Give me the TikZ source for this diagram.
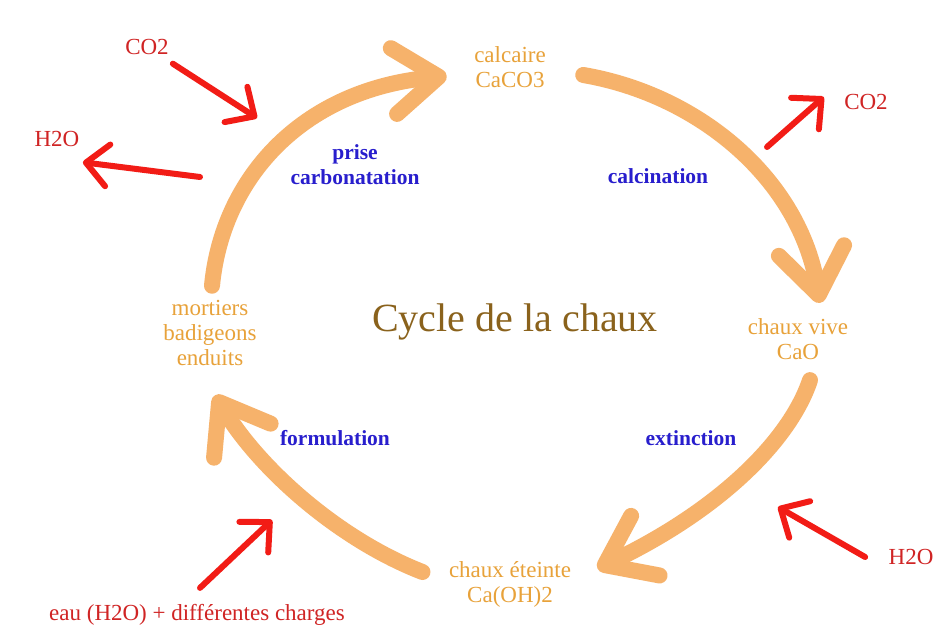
\documentclass[tikz,border=0pt]{standalone}
\usepackage{fontspec}
\setmainfont{Liberation Serif}
\usetikzlibrary{arrows.meta,positioning}

\definecolor{flowcol}{RGB}{246,178,107}
\definecolor{compcol}{RGB}{232,162,58}
\definecolor{stepcol}{RGB}{40,30,205}
\definecolor{gascol}{RGB}{208,36,36}
\definecolor{gasflowcol}{RGB}{242,28,22}
\definecolor{titlecol}{RGB}{138,98,28}

\begin{document}
\begin{tikzpicture}[
    x=1pt, y=-1pt,
    compound/.style={text=compcol, align=center, font=\fontsize{23}{25}\selectfont},
    reaction/.style={text=stepcol, align=center, font=\bfseries\fontsize{21.5}{25}\selectfont},
    gas/.style={text=gascol, font=\fontsize{23}{25}\selectfont},
    flow/.style={draw=flowcol, line width=16pt, line cap=round, -{Straight Barb[length=45pt, width=66pt, round]}},
    gasflow/.style={draw=gasflowcol, line width=6pt, line cap=round, -{Straight Barb[length=22pt, width=42pt, round]}}
]
\fill[white] (0,0) rectangle (941,626);
\useasboundingbox (0,0) rectangle (941,626);

% cycle stages
\node[compound] (calcaire) at (510,67) {calcaire\\CaCO3};
\node[compound] (vive) at (798,339) {chaux vive\\CaO};
\node[compound] (eteinte) at (510,584) {chaux éteinte\\Ca(OH)2};
\node[compound] (mortiers) at (210,333) {mortiers\\badigeons\\enduits};
\node[text=titlecol, font=\fontsize{40}{44}\selectfont] (title) at (515,322) {Cycle de la chaux};

% reactions
\node[reaction] (prise) at (355,165) {prise\\carbonatation};
\node[reaction] (calcination) at (658,176) {calcination};
\node[reaction] (extinction) at (691,438) {extinction};
\node[reaction] (formulation) at (335,438) {formulation};

% gases
\node[gas] (co2in) at (147,47) {CO2};
\node[gas] (h2oout) at (57,139) {H2O};
\node[gas] (co2out) at (866,102) {CO2};
\node[gas] (h2oin) at (911,557) {H2O};
\node[gas] (eau) at (197,615) {eau (H2O) + différentes charges};

\coordinate (co2intip) at (257,118);
\coordinate (h2oouttail) at (200,177);
\coordinate (co2outtail) at (767,147);
\coordinate (h2ointip) at (778,507);
\coordinate (eautip) at (272,520);

\draw[flow] ([xshift=2pt,yshift=11pt]mortiers.north) .. controls (222,180) and (300,90) .. ([xshift=-24pt,yshift=-9pt]calcaire.west);
\draw[flow] ([xshift=34pt,yshift=-8pt]calcaire.east) .. controls (700,95) and (800,180) .. ([xshift=22pt,yshift=12pt]vive.north);
\draw[flow] ([xshift=12pt,yshift=-17pt]vive.south) .. controls (790,440) and (720,510) .. ([xshift=23pt,yshift=-11pt]eteinte.north east);
\draw[flow] ([xshift=-23pt,yshift=12pt]eteinte.west) .. controls (340,540) and (260,470) .. ([xshift=5pt,yshift=-26pt]mortiers.south);

\draw[gasflow, shorten <=10pt] (co2in) -- (co2intip);
\draw[gasflow] (h2oouttail) -- ([yshift=-12pt]h2oout.south east);
\draw[gasflow] (co2outtail) -- ([xshift=-17pt,yshift=5pt]co2out.west);
\draw[gasflow] ([xshift=-20pt]h2oin.west) -- (h2ointip);
\draw[gasflow] ([xshift=3pt,yshift=13pt]eau.north) -- (eautip);

\end{tikzpicture}
\end{document}
